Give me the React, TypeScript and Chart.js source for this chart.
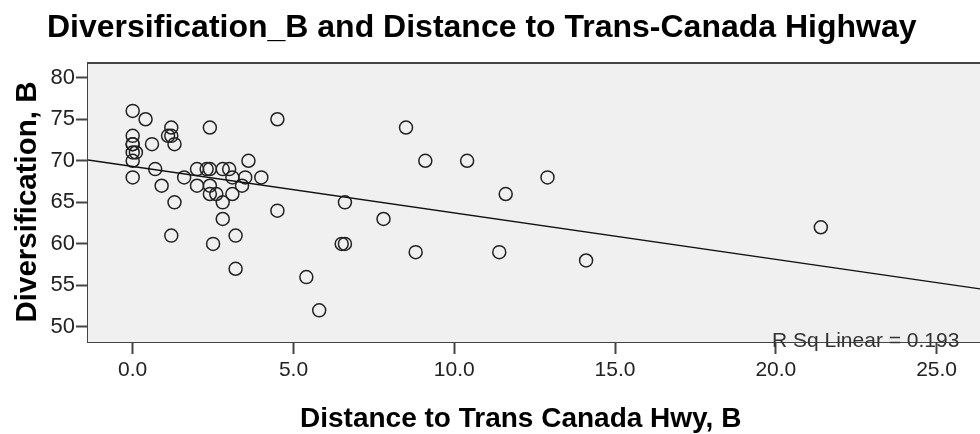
import React, { useEffect, useRef } from "react";
import { Chart, registerables } from "chart.js";

Chart.register(...registerables);

// Distance to Trans Canada Hwy, B (x) and Diversification, B (y)
const DIST_X = [
  0, 0, 0, 0, 0, 0, 0, 0.1, 0.4, 0.6, 0.7, 0.9,
  1.1, 1.2, 1.2, 1.3, 1.3, 1.2, 1.6,
  2.0, 2.0, 2.3, 2.4, 2.8, 3.0,
  2.4, 2.4, 2.4, 2.6, 2.5, 2.8, 2.8,
  3.1, 3.1, 3.2, 3.2, 3.4, 3.5, 3.6, 4.0,
  4.5, 4.5, 5.4, 5.8,
  6.6, 6.5, 6.6, 7.8, 8.5, 8.8, 9.1, 10.4, 11.4, 11.6, 12.9, 14.1, 21.4,
];
const DIVERS_Y = [
  76, 73, 72, 72, 71, 70, 68, 71, 75, 72, 69, 67,
  73, 73, 74, 72, 65, 61, 68,
  67, 69, 69, 69, 69, 69,
  74, 67, 66, 66, 60, 65, 63,
  68, 66, 61, 57, 67, 68, 70, 68,
  75, 64, 56, 52,
  65, 60, 60, 63, 74, 59, 70, 70, 59, 66, 68, 58, 62,
];

const X_TICKS = [0, 5, 10, 15, 20, 25];
const Y_TICKS = [50, 55, 60, 65, 70, 75, 80];
const X_MIN = -1.39;
const X_MAX = 26.35;
const Y_MIN = 48.19;
const Y_MAX = 81.77;

// Fit line
const FIT_INTERCEPT = 69.32;
const FIT_SLOPE = -0.559;
const R_SQ = 0.193;

const TITLE = "Diversification_B and Distance to Trans-Canada Highway";
const X_TITLE = "Distance to Trans Canada Hwy, B";
const Y_TITLE = "Diversification, B";

const FONT = '"Liberation Sans", Arial, sans-serif';

export default function App() {
  const ref = useRef<HTMLCanvasElement | null>(null);

  useEffect(() => {
    document.body.style.margin = "0";
    const canvas = ref.current;
    if (!canvas) return;

    const decor = {
      id: "decor",
      beforeDatasetsDraw(chart: any) {
        const { ctx, chartArea: a } = chart;
        ctx.save();
        ctx.fillStyle = "#f0f0f0";
        ctx.fillRect(a.left, a.top, a.right - a.left, a.bottom - a.top);
        ctx.restore();
      },
      afterDraw(chart: any) {
        const { ctx, chartArea: a } = chart;
        ctx.save();
        // top border
        ctx.strokeStyle = "#444";
        ctx.lineWidth = 2;
        ctx.beginPath();
        ctx.moveTo(a.left - 1, a.top);
        ctx.lineTo(a.right, a.top);
        ctx.stroke();

        ctx.fillStyle = "#000";
        ctx.font = `bold 32px ${FONT}`;
        ctx.textAlign = "left";
        ctx.textBaseline = "alphabetic";
        ctx.fillText(TITLE, 47, 37);

        ctx.font = `bold 28px ${FONT}`;
        ctx.fillText(X_TITLE, 300, 427);

        ctx.save();
        ctx.translate(36, 202);
        ctx.rotate(-Math.PI / 2);
        ctx.textAlign = "center";
        ctx.font = `bold 29.5px ${FONT}`;
        ctx.fillText(Y_TITLE, 0, 0);
        ctx.restore();

        ctx.fillStyle = "#333";
        ctx.font = `21px ${FONT}`;
        ctx.textAlign = "left";
        ctx.fillText(`R Sq Linear = ${R_SQ.toFixed(3)}`, 772, 347);
        ctx.restore();
      },
    };

    const chart = new Chart(canvas, {
      type: "scatter",
      data: {
        datasets: [
          {
            type: "line",
            data: [
              { x: X_MIN, y: FIT_INTERCEPT + FIT_SLOPE * X_MIN },
              { x: X_MAX, y: FIT_INTERCEPT + FIT_SLOPE * X_MAX },
            ],
            borderColor: "#111",
            borderWidth: 1.3,
            pointRadius: 0,
            fill: false,
          } as any,
          {
            data: DIST_X.map((x, i) => ({ x, y: DIVERS_Y[i] })),
            pointRadius: 6.5,
            pointHoverRadius: 6.5,
            borderWidth: 1.5,
            borderColor: "#222",
            backgroundColor: "rgba(0,0,0,0)",
          },
        ],
      },
      options: {
        animation: false,
        responsive: false,
        events: [],
        layout: { autoPadding: false, padding: { top: 63, left: 0, right: 0, bottom: 0 } },
        plugins: {
          legend: { display: false },
          tooltip: { enabled: false },
          title: { display: false },
        },
        scales: {
          x: {
            type: "linear",
            min: X_MIN,
            max: X_MAX,
            afterBuildTicks: (s: any) => {
              s.ticks = X_TICKS.map((v) => ({ value: v }));
            },
            afterFit: (s: any) => {
              s.height = 92;
              s.paddingLeft = 0;
              s.paddingRight = 0;
            },
            ticks: {
              color: "#222",
              font: { family: FONT, size: 21 },
              padding: 4,
              maxRotation: 0,
              callback: (v: any) => Number(v).toFixed(1),
            },
            grid: {
              drawOnChartArea: false,
              tickLength: 12,
              tickWidth: 2,
              tickColor: "#444",
            },
            border: { display: true, color: "#444", width: 2 },
          },
          y: {
            type: "linear",
            min: Y_MIN,
            max: Y_MAX,
            afterBuildTicks: (s: any) => {
              s.ticks = Y_TICKS.map((v) => ({ value: v }));
            },
            afterFit: (s: any) => {
              s.width = 88;
              s.paddingTop = 0;
              s.paddingBottom = 0;
            },
            ticks: {
              color: "#222",
              font: { family: FONT, size: 22 },
              padding: 1,
              callback: (v: any) => String(v),
            },
            grid: {
              drawOnChartArea: false,
              tickLength: 12,
              tickWidth: 2,
              tickColor: "#444",
            },
            border: { display: true, color: "#444", width: 2 },
          },
        },
      },
      plugins: [decor],
    });

    return () => chart.destroy();
  }, []);

  return (
    <div style={{ width: 980, height: 434 }}>
      <canvas ref={ref} width={980} height={434} style={{ display: "block" }} />
    </div>
  );
}
